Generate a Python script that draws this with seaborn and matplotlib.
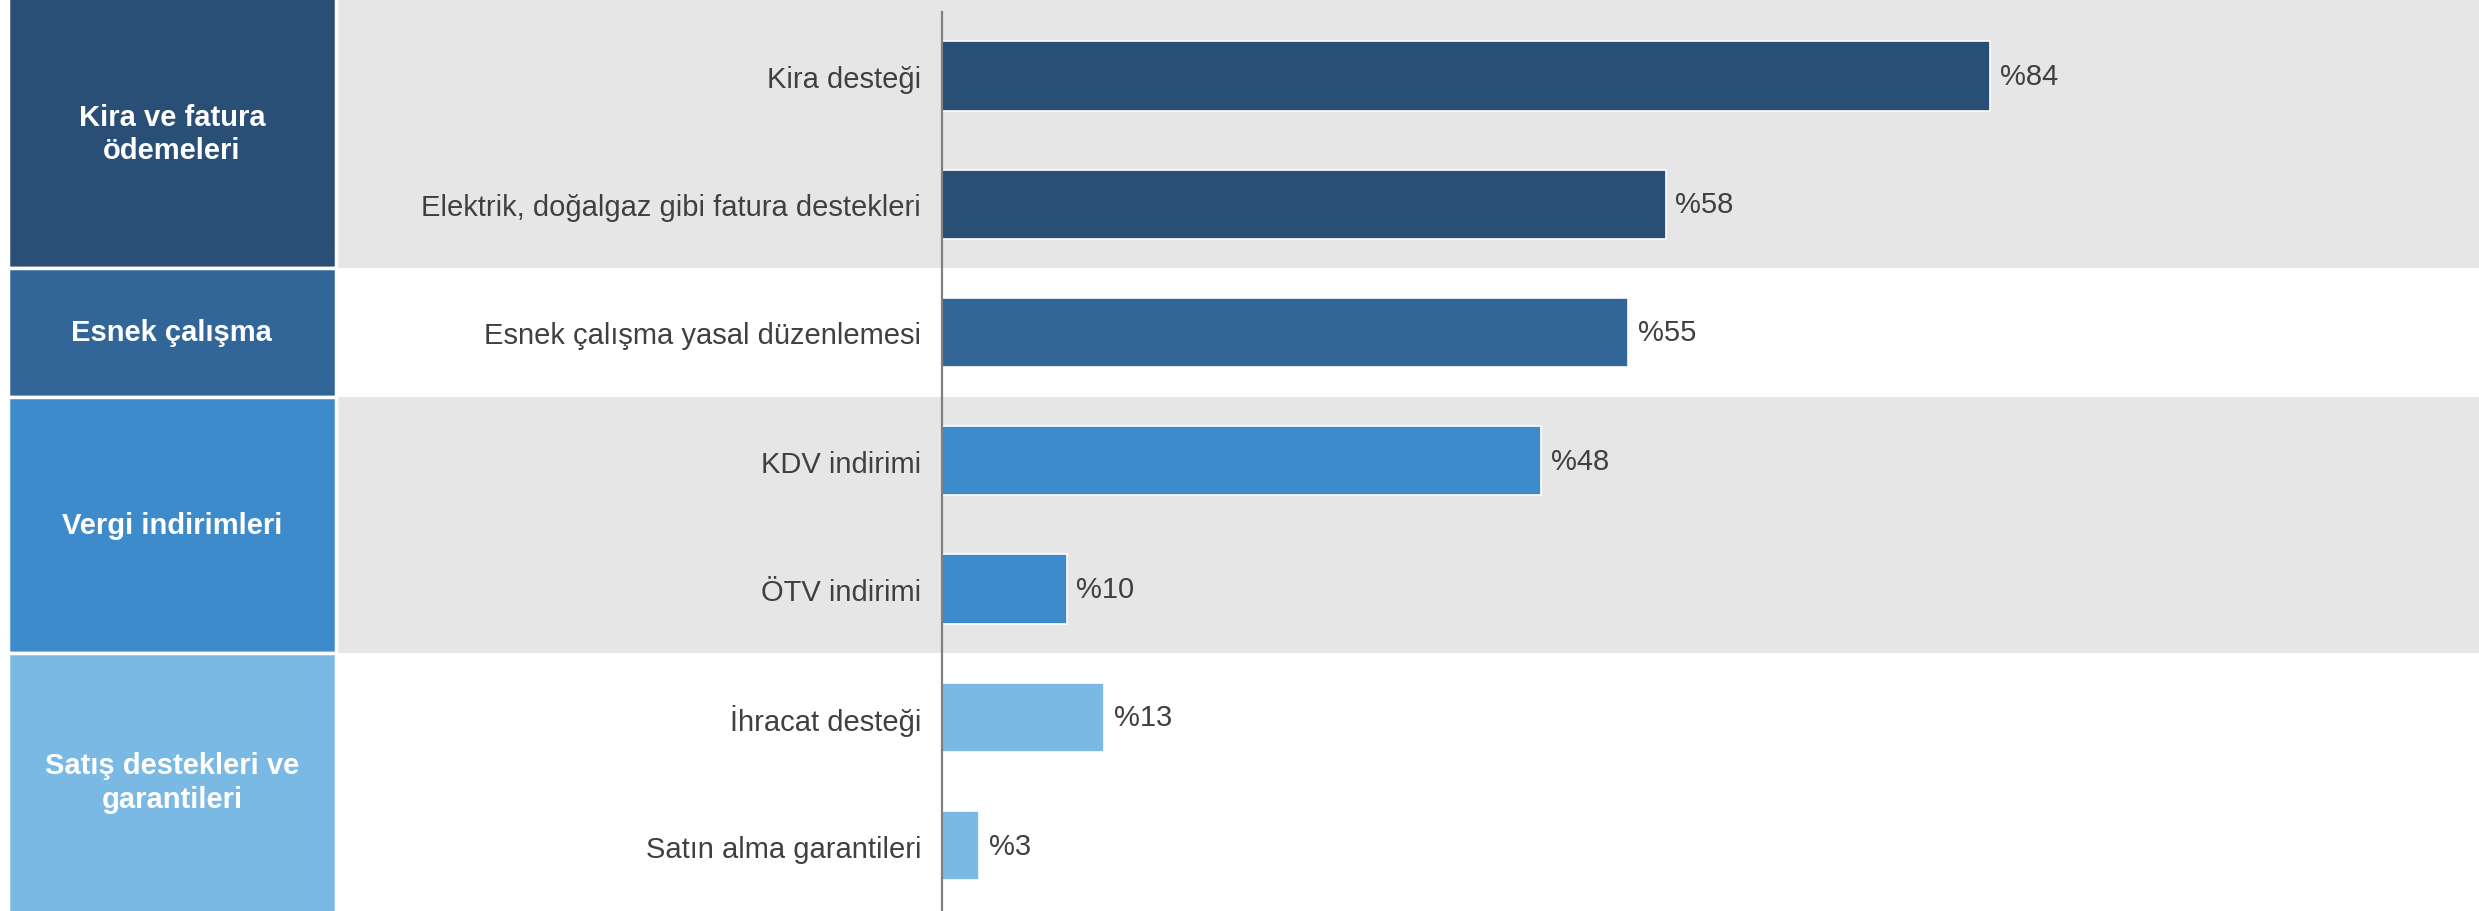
import matplotlib
matplotlib.use("Agg")
import matplotlib.pyplot as plt
import matplotlib.transforms as mtransforms
from matplotlib.patches import Rectangle
import seaborn as sns
import pandas as pd

# ---- data ----
items = ["Kira desteği", "Elektrik, doğalgaz gibi fatura destekleri",
         "Esnek çalışma yasal düzenlemesi", "KDV indirimi", "ÖTV indirimi",
         "İhracat desteği", "Satın alma garantileri"]
values = [84, 58, 55, 48, 10, 13, 3]
groups = ["Kira ve fatura\nödemeleri", "Kira ve fatura\nödemeleri", "Esnek çalışma",
          "Vergi indirimleri", "Vergi indirimleri",
          "Satış destekleri ve\ngarantileri", "Satış destekleri ve\ngarantileri"]
group_names = ["Kira ve fatura\nödemeleri", "Esnek çalışma", "Vergi indirimleri",
               "Satış destekleri ve\ngarantileri"]
group_colors = ["#294F77", "#336698", "#3D8BCB", "#7BB9E5"]
group_band = [True, False, True, False]

df = pd.DataFrame({"item": items, "value": values, "group": groups})
color_of = dict(zip(group_names, group_colors))
bar_palette = {it: color_of[g] for it, g in zip(items, groups)}

sns.set_theme(style="white")
plt.rcParams["font.family"] = ["Liberation Sans", "DejaVu Sans"]

fig = plt.figure(figsize=(24.79, 9.12), dpi=100)
bg = fig.add_axes([0, 0, 1, 1], zorder=-1)
bg.set_axis_off()
ax = fig.add_axes([0.38, 0.0, 0.62, 0.986], zorder=1)
ax.patch.set_alpha(0)

sns.barplot(data=df, y="item", x="value", hue="item", palette=bar_palette,
            orient="h", width=0.54, legend=False, ax=ax, saturation=1,
            edgecolor="white", linewidth=1.2, zorder=3)

ax.set_xlim(0, 123.2)
ax.set_ylim(len(items) - 0.49, -0.5)
ax.set_xlabel("")
ax.set_ylabel("")
ax.set_xticks([])
for s in ["top", "right", "bottom"]:
    ax.spines[s].set_visible(False)
ax.spines["left"].set_color("#808080")
ax.spines["left"].set_linewidth(1.6)
ax.spines["left"].set_zorder(4)
ax.tick_params(axis="y", length=0, pad=15, labelsize=21, labelcolor="#404040")

for cont in ax.containers:
    ax.bar_label(cont, fmt="%{:.0f}", padding=7, fontsize=21, color="#404040")

# group bands and boxes
blend = mtransforms.blended_transform_factory(fig.transFigure, ax.transData)
idx = {}
for i, g in enumerate(groups):
    idx.setdefault(g, []).append(i)
ylo, yhi = ax.get_ylim()[1], ax.get_ylim()[0]
top_fig = ylo - (1 - 0.986) / 0.986 * (yhi - ylo)
for gname, col, band in zip(group_names, group_colors, group_band):
    rows = idx[gname]
    y0 = rows[0] - 0.5
    y1 = rows[-1] + 0.5
    if rows[0] == 0:
        y0 = top_fig - 0.2
    if rows[-1] == len(items) - 1:
        y1 = yhi + 0.2
    if band:
        bg.add_patch(Rectangle((0.1365, y0), 1 - 0.1365, y1 - y0,
                               transform=blend, facecolor="#E6E6E6",
                               edgecolor="none", clip_on=False, zorder=0))
    bg.add_patch(Rectangle((0.0032, y0), 0.1323, y1 - y0, transform=blend,
                           facecolor=col, edgecolor="white", linewidth=2.5,
                           clip_on=False, zorder=1))
    yc = (max(y0, top_fig) + min(y1, yhi)) / 2
    bg.text(0.0032 + 0.1323 / 2, yc, gname, transform=blend, ha="center",
            va="center", color="white", fontsize=21, fontweight="bold",
            linespacing=1.25, zorder=2, clip_on=False)

fig.savefig("out.png", dpi=100)
